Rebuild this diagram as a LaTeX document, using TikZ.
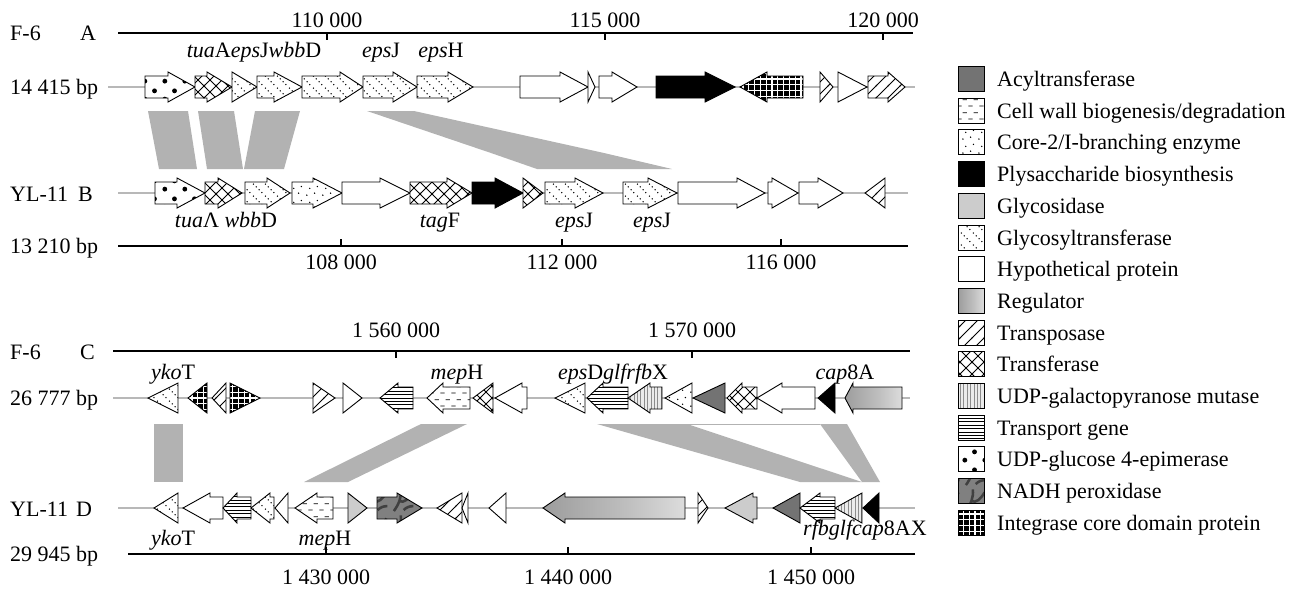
\documentclass[tikz,border=0pt]{standalone}
\usepackage{fontspec}
\setmainfont{Liberation Serif}
\usetikzlibrary{patterns}

% ---- fill patterns for the gene classes ----
\pgfdeclarepatternformonly{gtdots}{\pgfqpoint{0pt}{0pt}}{\pgfqpoint{12pt}{12pt}}{\pgfqpoint{12pt}{12pt}}{%
  \pgfpathcircle{\pgfqpoint{1.5pt}{10.5pt}}{0.8pt}%
  \pgfpathcircle{\pgfqpoint{4.5pt}{7.5pt}}{0.8pt}%
  \pgfpathcircle{\pgfqpoint{7.5pt}{4.5pt}}{0.8pt}%
  \pgfpathcircle{\pgfqpoint{10.5pt}{1.5pt}}{0.8pt}%
  \pgfusepath{fill}}
\pgfdeclarepatternformonly{cwdash}{\pgfqpoint{0pt}{0pt}}{\pgfqpoint{11pt}{13pt}}{\pgfqpoint{11pt}{13pt}}{%
  \pgfsetlinewidth{0.9pt}%
  \pgfpathmoveto{\pgfqpoint{0.5pt}{3.2pt}}\pgfpathlineto{\pgfqpoint{5pt}{3.2pt}}%
  \pgfpathmoveto{\pgfqpoint{6pt}{9.7pt}}\pgfpathlineto{\pgfqpoint{10.5pt}{9.7pt}}%
  \pgfusepath{stroke}}
\pgfdeclarepatternformonly{coredots}{\pgfqpoint{0pt}{0pt}}{\pgfqpoint{16pt}{14pt}}{\pgfqpoint{16pt}{14pt}}{%
  \pgfpathcircle{\pgfqpoint{3pt}{3pt}}{0.8pt}%
  \pgfpathcircle{\pgfqpoint{11pt}{5pt}}{0.8pt}%
  \pgfpathcircle{\pgfqpoint{6pt}{10pt}}{0.8pt}%
  \pgfpathcircle{\pgfqpoint{14pt}{12pt}}{0.8pt}%
  \pgfusepath{fill}}
\pgfdeclarepatternformonly{bigdots}{\pgfqpoint{0pt}{0pt}}{\pgfqpoint{20pt}{18pt}}{\pgfqpoint{20pt}{18pt}}{%
  \pgfpathcircle{\pgfqpoint{5pt}{5pt}}{2.5pt}%
  \pgfpathcircle{\pgfqpoint{15pt}{13.5pt}}{2.5pt}%
  \pgfusepath{fill}}
\pgfdeclarepatternformonly{tplines}{\pgfqpoint{-1pt}{-1pt}}{\pgfqpoint{13pt}{13pt}}{\pgfqpoint{12pt}{12pt}}{%
  \pgfsetlinewidth{0.8pt}%
  \pgfpathmoveto{\pgfqpoint{-1pt}{-1pt}}\pgfpathlineto{\pgfqpoint{13pt}{13pt}}%
  \pgfusepath{stroke}}
\pgfdeclarepatternformonly{xhatch}{\pgfqpoint{-1pt}{-1pt}}{\pgfqpoint{13pt}{13pt}}{\pgfqpoint{12pt}{12pt}}{%
  \pgfsetlinewidth{0.8pt}%
  \pgfpathmoveto{\pgfqpoint{-1pt}{-1pt}}\pgfpathlineto{\pgfqpoint{13pt}{13pt}}%
  \pgfpathmoveto{\pgfqpoint{-1pt}{13pt}}\pgfpathlineto{\pgfqpoint{13pt}{-1pt}}%
  \pgfusepath{stroke}}
\pgfdeclarepatternformonly{hstripes}{\pgfqpoint{-0.5pt}{0pt}}{\pgfqpoint{4.5pt}{3.4pt}}{\pgfqpoint{4pt}{3.4pt}}{%
  \pgfsetlinewidth{0.8pt}%
  \pgfpathmoveto{\pgfqpoint{-0.5pt}{1.7pt}}\pgfpathlineto{\pgfqpoint{4.5pt}{1.7pt}}%
  \pgfusepath{stroke}}
\pgfdeclarepatternformonly{vstripes}{\pgfqpoint{0pt}{-0.5pt}}{\pgfqpoint{3.4pt}{4.5pt}}{\pgfqpoint{3.4pt}{4pt}}{%
  \pgfsetlinewidth{0.9pt}%
  \pgfpathmoveto{\pgfqpoint{1.7pt}{-0.5pt}}\pgfpathlineto{\pgfqpoint{1.7pt}{4.5pt}}%
  \pgfusepath{stroke}}
\pgfdeclarepatternformonly{igrid}{\pgfqpoint{-0.5pt}{-0.5pt}}{\pgfqpoint{6.3pt}{6.3pt}}{\pgfqpoint{5.8pt}{5.8pt}}{%
  \pgfsetlinewidth{1.3pt}%
  \pgfpathmoveto{\pgfqpoint{0.6pt}{-0.5pt}}\pgfpathlineto{\pgfqpoint{0.6pt}{6.3pt}}%
  \pgfpathmoveto{\pgfqpoint{-0.5pt}{0.6pt}}\pgfpathlineto{\pgfqpoint{6.3pt}{0.6pt}}%
  \pgfusepath{stroke}}
\pgfdeclarepatternformonly{nadhp}{\pgfqpoint{0pt}{0pt}}{\pgfqpoint{26pt}{26pt}}{\pgfqpoint{26pt}{26pt}}{%
  \pgfsetlinewidth{2.6pt}%
  \pgfpathmoveto{\pgfqpoint{4pt}{2pt}}\pgfpathcurveto{\pgfqpoint{9pt}{9pt}}{\pgfqpoint{12pt}{16pt}}{\pgfqpoint{11pt}{24pt}}%
  \pgfpathmoveto{\pgfqpoint{10pt}{12pt}}\pgfpathcurveto{\pgfqpoint{14pt}{10pt}}{\pgfqpoint{19pt}{14pt}}{\pgfqpoint{23pt}{21pt}}%
  \pgfpathmoveto{\pgfqpoint{14pt}{3pt}}\pgfpathcurveto{\pgfqpoint{17pt}{6pt}}{\pgfqpoint{20pt}{7pt}}{\pgfqpoint{24pt}{7pt}}%
  \pgfusepath{stroke}}
\pgfdeclarehorizontalshading{regshade}{100bp}{color(0bp)=(black!50); color(55bp)=(black!25); color(85bp)=(black!8); color(100bp)=(black!42)}

% gene drawn as an arrow: style, row y, tail x, head start x, tip x
\newcommand\genearrow[5]{%
  \draw[#1] (#3,#2-11) -- (#4,#2-11) -- (#4,#2-15) -- (#5,#2) -- (#4,#2+15) -- (#4,#2+11) -- (#3,#2+11) -- cycle;}
% gene drawn as a triangle: style, row y, base x, tip x
\newcommand\genetri[4]{%
  \draw[#1] (#3,#2-15) -- (#4,#2) -- (#3,#2+15) -- cycle;}
% legend entry: index, style, text
\newcommand\legitem[3]{%
  \draw[#2] (958,{79+31.7*#1-12.5}) rectangle (984,{79+31.7*#1+12.5});
  \node[anchor=base west] (leg#1) at (997,{79+31.7*#1+7.5}) {#3};}

\tikzset{
  gb/.style={draw=black, line width=0.9pt, pattern color=black},
  hyp/.style={gb, fill=white},
  pb/.style={gb, fill=black},
  acyl/.style={gb, fill=black!55},
  gsd/.style={gb, fill=black!20},
  gtf/.style={gb, preaction={fill=white}, pattern=gtdots},
  cwb/.style={gb, preaction={fill=white}, pattern=cwdash},
  core/.style={gb, preaction={fill=white}, pattern=coredots},
  epi/.style={gb, preaction={fill=white}, pattern=bigdots},
  tps/.style={gb, preaction={fill=white}, pattern=tplines},
  tfs/.style={gb, preaction={fill=white}, pattern=xhatch},
  ugm/.style={gb, preaction={fill=black!8}, pattern=vstripes, pattern color=black!45},
  tpt/.style={gb, preaction={fill=white}, pattern=hstripes},
  itg/.style={gb, preaction={fill=black}, pattern=igrid, pattern color=white},
  nadh/.style={gb, preaction={fill=black!50}, pattern=nadhp, pattern color=black!75},
  regu/.style={gb, shade, shading=regshade},
  axisline/.style={draw=black, line width=1.2pt},
  backbone/.style={draw=black!28, line width=1.2pt},
  band/.style={fill=black!30, draw=none},
  lbl/.style={anchor=base},
}

\begin{document}
\begin{tikzpicture}[x=1pt, y=-1pt, every node/.style={font=\fontsize{22}{26}\selectfont, inner sep=0pt}]
\useasboundingbox (0,0) rectangle (1306,590);

% ================= panel A / B =================
\node[anchor=base west] (fa) at (10,40.5) {F-6};
\node[anchor=base west] (la) at (80,40.5) {A};
\node[anchor=base west] (sa) at (10,94.5) {14 415 bp};
\node[anchor=base west] (fb) at (10,201) {YL-11};
\node[anchor=base west] (lb) at (78,201) {B};
\node[anchor=base west] (sb) at (10,253.5) {13 210 bp};

% coordinate axis of A
\draw[axisline] (118,33) -- (913,33);
\foreach \x/\t in {327/110 000, 605/115 000, 883/120 000}
  \draw[axisline] (\x,33) -- (\x,40) node[lbl] at (\x,27.5) {\t};
% coordinate axis of B
\draw[axisline] (118,246) -- (908,246);
\foreach \x/\t in {341/108 000, 562/112 000, 781/116 000}
  \draw[axisline] (\x,246) -- (\x,239) node[lbl] at (\x,269.5) {\t};

% homologous regions between A and B
\fill[band] (148,111) -- (188,111) -- (197,169) -- (159,169) -- cycle;
\fill[band] (198,111) -- (234,111) -- (243,169) -- (207,169) -- cycle;
\fill[band] (255,111) -- (300,111) -- (284,169) -- (244,169) -- cycle;
\fill[band] (367,111) -- (414,111) -- (604,153) -- (672,169) -- (537,169) -- (491,153) -- cycle;

% row A
\draw[backbone] (108,87) -- (915,87);
\genearrow{epi}{87}{145}{168}{195}
\genearrow{tfs}{87}{195}{207}{232}
\genetri{gtf}{87}{232}{257}
\genearrow{gtf}{87}{257}{274}{302}
\genearrow{gtf}{87}{302}{340}{363}
\genearrow{gtf}{87}{363}{393}{417}
\genearrow{gtf}{87}{417}{448}{473}
\genearrow{hyp}{87}{520}{560}{588}
\genetri{hyp}{87}{588}{595}
\genearrow{hyp}{87}{599}{612}{637}
\genearrow{pb}{87}{656}{705}{735}
\genearrow{itg}{87}{803}{767}{740}
\genetri{tps}{87}{820}{833}
\genetri{hyp}{87}{838}{867}
\genearrow{tps}{87}{868}{888}{905}
\node[lbl] (ga1) at (254,57.5) {\textit{tua}A\textit{eps}J\textit{wbb}D};
\node[lbl] (ga2) at (381,57.5) {\textit{eps}J};
\node[lbl] (ga3) at (441,57.5) {\textit{eps}H};

% row B
\draw[backbone] (118,193) -- (908,193);
\genearrow{epi}{193}{155}{177}{205}
\genearrow{tfs}{193}{205}{218}{242}
\genearrow{gtf}{193}{245}{267}{290}
\genearrow{core}{193}{292}{313}{342}
\genearrow{hyp}{193}{342}{380}{410}
\genearrow{tfs}{193}{410}{447}{472}
\genearrow{pb}{193}{472}{495}{523}
\genetri{tfs}{193}{523}{543}
\genearrow{gtf}{193}{545}{575}{603}
\genearrow{gtf}{193}{623}{648}{677}
\genearrow{hyp}{193}{678}{737}{765}
\genearrow{hyp}{193}{768}{772}{798}
\genearrow{hyp}{193}{799}{818}{843}
\genetri{tps}{193}{885}{865}
\node[lbl] (gb1) at (226,227.5) {\textit{tua}Λ \textit{wbb}D};
\node[lbl] (gb2) at (440,227.5) {\textit{tag}F};
\node[lbl] (gb3) at (574,227.5) {\textit{eps}J};
\node[lbl] (gb4) at (652,227.5) {\textit{eps}J};

% ================= panel C / D =================
\node[anchor=base west] (fc) at (10,359) {F-6};
\node[anchor=base west] (lc) at (80,359) {C};
\node[anchor=base west] (sc) at (10,405.5) {26 777 bp};
\node[anchor=base west] (fd) at (10,516) {YL-11};
\node[anchor=base west] (ld) at (76,516) {D};
\node[anchor=base west] (sd) at (10,561.5) {29 945 bp};

% coordinate axis of C
\draw[axisline] (113,351) -- (910,351);
\foreach \x/\t in {396/1 560 000, 692/1 570 000}
  \draw[axisline] (\x,351) -- (\x,358) node[lbl] at (\x,337.5) {\t};
% coordinate axis of D
\draw[axisline] (128,554) -- (915,554);
\foreach \x/\t in {326/1 430 000, 568/1 440 000, 811/1 450 000}
  \draw[axisline] (\x,554) -- (\x,547) node[lbl] at (\x,584.5) {\t};

% homologous regions between C and D
\fill[band] (154,424) -- (183,424) -- (183,482) -- (154,482) -- cycle;
\fill[band] (421,424) -- (467,424) -- (348,482) -- (304,482) -- cycle;
\fill[band] (597,424) -- (687,424) -- (862,482) -- (800,482) -- cycle;
\fill[band] (820,424) -- (847,424) -- (880,482) -- (862,482) -- cycle;
\draw[draw=black!30, line width=0.8pt] (687,424) -- (820,424);

% row C
\draw[backbone] (113,398) -- (910,398);
\genetri{gtf}{398}{178}{148}
\genetri{itg}{398}{207}{188}
\genetri{tps}{398}{226}{212}
\genetri{itg}{398}{230}{260}
\genetri{tps}{398}{313}{335}
\genetri{hyp}{398}{343}{362}
\genearrow{tpt}{398}{413}{398}{380}
\genearrow{cwb}{398}{470}{443}{427}
\genetri{tfs}{398}{493}{473}
\genearrow{hyp}{398}{527}{522}{495}
\genetri{gtf}{398}{585}{555}
\genearrow{tpt}{398}{628}{603}{587}
\genearrow{ugm}{398}{662}{650}{628}
\genetri{core}{398}{692}{665}
\genetri{acyl}{398}{725}{693}
\genearrow{tfs}{398}{757}{742}{727}
\genearrow{hyp}{398}{815}{782}{757}
\genetri{pb}{398}{835}{818}
\genearrow{regu}{398}{902}{853}{845}
\node[lbl] (gc1) at (173,379.5) {\textit{yko}T};
\node[lbl] (gc2) at (457,379.5) {\textit{mep}H};
\node[lbl] (gc3) at (613,379.5) {\textit{eps}D\textit{glfrfb}X};
\node[lbl] (gc4) at (845,379.5) {\textit{cap}8A};

% row D
\draw[backbone] (118,508) -- (915,508);
\genetri{gtf}{508}{178}{154}
\genearrow{hyp}{508}{223}{210}{183}
\genearrow{tpt}{508}{251}{237}{223}
\genearrow{gtf}{508}{274}{270}{251}
\genetri{hyp}{508}{288}{275}
\genearrow{cwb}{508}{333}{317}{295}
\genetri{gsd}{508}{348}{367}
\genearrow{nadh}{508}{377}{397}{422}
\genetri{tps}{508}{462}{437}
\genetri{hyp}{508}{468}{462}
\genetri{hyp}{508}{506}{489}
\genearrow{regu}{508}{685}{565}{543}
\genetri{tps}{508}{698}{708}
\genearrow{gsd}{508}{757}{753}{725}
\genetri{acyl}{508}{800}{773}
\genearrow{tpt}{508}{835}{820}{800}
\genetri{ugm}{508}{862}{835}
\genetri{pb}{508}{879}{863}
\node[lbl] (gd1) at (173,545.5) {\textit{yko}T};
\node[lbl] (gd2) at (325,545.5) {\textit{mep}H};
\node[anchor=base west] (gd3) at (803,535.5) {\textit{rfbglfcap}8AX};

% ================= legend =================
\legitem{0}{acyl}{Acyltransferase}
\legitem{1}{cwb}{Cell wall biogenesis/degradation}
\legitem{2}{core}{Core-2/I-branching enzyme}
\legitem{3}{pb}{Plysaccharide biosynthesis}
\legitem{4}{gsd}{Glycosidase}
\legitem{5}{gtf}{Glycosyltransferase}
\legitem{6}{hyp}{Hypothetical protein}
\legitem{7}{regu}{Regulator}
\legitem{8}{tps}{Transposase}
\legitem{9}{tfs}{Transferase}
\legitem{10}{ugm}{UDP-galactopyranose mutase}
\legitem{11}{tpt}{Transport gene}
\legitem{12}{epi}{UDP-glucose 4-epimerase}
\legitem{13}{nadh}{NADH peroxidase}
\legitem{14}{itg}{Integrase core domain protein}
\end{tikzpicture}
\end{document}
